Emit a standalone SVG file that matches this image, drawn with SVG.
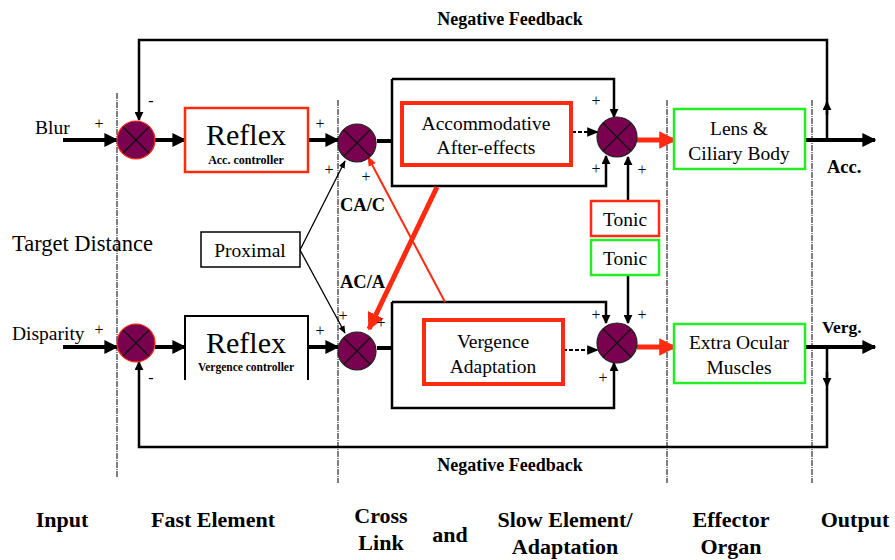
<svg xmlns="http://www.w3.org/2000/svg" width="895" height="560" viewBox="0 0 895 560">
  <style>
    text { font-family: "Times New Roman", "Liberation Serif", Tinos, "Nimbus Roman", "DejaVu Serif", "Noto Serif", serif; fill: #000; }
    .b { font-weight: bold; }
    .lbl { font-size: 18px; font-weight: bold; text-anchor: middle; }
    .sgn { font-size: 16px; text-anchor: middle; }
    .col { font-size: 22px; font-weight: bold; text-anchor: middle; }
    .mid { text-anchor: middle; }
    .box { font-size: 19.5px; text-anchor: middle; }
    .sep { stroke: #000; stroke-width: 1; stroke-dasharray: 6 1 1 1; fill: none; }
    .thick { stroke: #000; stroke-width: 4; fill: none; }
    .wire { stroke: #000; stroke-width: 2.5; fill: none; }
    .thin { stroke: #000; stroke-width: 1.3; fill: none; }
    .dash { stroke: #000; stroke-width: 2; stroke-dasharray: 4 2; fill: none; }
    .redthick { stroke: #ff2a10; stroke-width: 5; fill: none; }
    .redthin { stroke: #ff2a10; stroke-width: 2; fill: none; }
    .sum circle { fill: #7a0050; stroke: #222; stroke-width: 1.2; }
    .sum.in circle { stroke: #ff2a10; }
    .sum line { stroke: #111; stroke-width: 1.2; }
    .rbox { fill: #fff; stroke: #ff2a10; stroke-width: 2.5; }
    .rbox2 { fill: #fff; stroke: #ff2a10; stroke-width: 4; }
    .gbox { fill: #fff; stroke: #22ee22; stroke-width: 2.5; }
    .kbox { fill: #fff; stroke: #000; stroke-width: 1.5; }
  </style>
  <defs>
    <marker id="ah" viewBox="0 0 10 10" refX="9" refY="5" markerWidth="3.5" markerHeight="3.5" orient="auto" markerUnits="strokeWidth">
      <path d="M0,0 L10,5 L0,10 Z" fill="#000"/>
    </marker>
    <marker id="ahs" viewBox="0 0 10 10" refX="9" refY="5" markerWidth="3.6" markerHeight="3.6" orient="auto" markerUnits="strokeWidth">
      <path d="M0,0 L10,5 L0,10 Z" fill="#000"/>
    </marker>
    <marker id="ahthin" viewBox="0 0 10 10" refX="9" refY="5" markerWidth="6" markerHeight="6" orient="auto" markerUnits="strokeWidth">
      <path d="M0,1 L10,5 L0,9 Z" fill="#000"/>
    </marker>
    <marker id="ahred" viewBox="0 0 10 10" refX="9" refY="5" markerWidth="3.5" markerHeight="3.5" orient="auto" markerUnits="strokeWidth">
      <path d="M0,0 L10,5 L0,10 Z" fill="#ff2a10"/>
    </marker>
    <marker id="ahredthin" viewBox="0 0 10 10" refX="9" refY="5" markerWidth="5" markerHeight="5" orient="auto" markerUnits="strokeWidth">
      <path d="M0,1 L10,5 L0,9 Z" fill="#ff2a10"/>
    </marker>
  </defs>

  <!-- stage separators -->
  <g id="separators">
    <line class="sep" x1="117" y1="93" x2="117" y2="477"/>
    <line class="sep" x1="338" y1="100" x2="338" y2="483"/>
    <line class="sep" x1="667" y1="100" x2="667" y2="483"/>
    <line class="sep" x1="812" y1="100" x2="812" y2="483"/>
  </g>

  <g id="connectors">
    <!-- accommodation path -->
    <line class="thick" x1="63" y1="140" x2="117" y2="140" marker-end="url(#ah)"/>
    <line class="thick" x1="155" y1="140" x2="185" y2="140" marker-end="url(#ah)"/>
    <line class="thick" x1="308" y1="140" x2="338" y2="140" marker-end="url(#ah)"/>
    <line class="thick" x1="377" y1="141" x2="392" y2="141"/>
    <path class="wire" d="M392,79 H614 V117" marker-end="url(#ahs)"/>
    <path class="wire" d="M392,79 V186 H606 V156" marker-end="url(#ahs)"/>
    <line class="dash" x1="572" y1="132" x2="598" y2="132" marker-end="url(#ahthin)"/>
    <line class="redthick" x1="637" y1="140" x2="675" y2="140" marker-end="url(#ahred)"/>
    <line class="thick" x1="805" y1="140" x2="875" y2="140" marker-end="url(#ah)"/>
    <line class="wire" x1="628" y1="201" x2="628" y2="157" marker-end="url(#ahs)"/>
    <!-- accommodation feedback -->
    <path class="wire" d="M827,140 V40 H139 V120" marker-end="url(#ahs)"/>
    <line class="wire" x1="827" y1="115" x2="827" y2="102" marker-end="url(#ahs)"/>

    <!-- vergence path -->
    <line class="thick" x1="63" y1="347" x2="117" y2="347" marker-end="url(#ah)"/>
    <line class="thick" x1="155" y1="347" x2="185" y2="347" marker-end="url(#ah)"/>
    <line class="thick" x1="308" y1="347" x2="338" y2="347" marker-end="url(#ah)"/>
    <line class="thick" x1="377" y1="348" x2="392" y2="348"/>
    <path class="wire" d="M392,302 H606 V323" marker-end="url(#ahs)"/>
    <path class="wire" d="M392,302 V408 H614 V363" marker-end="url(#ahs)"/>
    <line class="dash" x1="563" y1="350" x2="598" y2="350" marker-end="url(#ahthin)"/>
    <line class="redthick" x1="637" y1="347" x2="675" y2="347" marker-end="url(#ahred)"/>
    <line class="thick" x1="805" y1="347" x2="875" y2="347" marker-end="url(#ah)"/>
    <line class="wire" x1="628" y1="275" x2="628" y2="323" marker-end="url(#ahs)"/>
    <!-- vergence feedback -->
    <path class="wire" d="M827,347 V447 H139 V362" marker-end="url(#ahs)"/>
    <line class="wire" x1="827" y1="372" x2="827" y2="386" marker-end="url(#ahs)"/>

    <!-- proximal and cross links -->
    <line class="thin" x1="300" y1="250" x2="345" y2="161" marker-end="url(#ahthin)"/>
    <line class="thin" x1="300" y1="250" x2="345" y2="333" marker-end="url(#ahthin)"/>
    <line class="redthin" x1="445" y1="302" x2="368" y2="157" marker-end="url(#ahredthin)"/>
    <line class="redthick" x1="437" y1="187" x2="369" y2="329" marker-end="url(#ahred)"/>
  </g>

  <!-- summing junctions -->
  <g id="sum-blur" class="sum in">
    <circle cx="136" cy="140" r="19"/>
    <line x1="123" y1="127" x2="149" y2="153"/><line x1="149" y1="127" x2="123" y2="153"/>
  </g>
  <g id="sum-acc-cross" class="sum">
    <circle cx="357" cy="143" r="19"/>
    <line x1="344" y1="130" x2="370" y2="156"/><line x1="370" y1="130" x2="344" y2="156"/>
  </g>
  <g id="sum-acc-out" class="sum">
    <circle cx="617" cy="137" r="20"/>
    <line x1="603" y1="123" x2="631" y2="151"/><line x1="631" y1="123" x2="603" y2="151"/>
  </g>
  <g id="sum-disp" class="sum in">
    <circle cx="136" cy="343" r="19"/>
    <line x1="123" y1="330" x2="149" y2="356"/><line x1="149" y1="330" x2="123" y2="356"/>
  </g>
  <g id="sum-verg-cross" class="sum">
    <circle cx="357" cy="351" r="19"/>
    <line x1="344" y1="338" x2="370" y2="364"/><line x1="370" y1="338" x2="344" y2="364"/>
  </g>
  <g id="sum-verg-out" class="sum">
    <circle cx="617" cy="343" r="20"/>
    <line x1="603" y1="329" x2="631" y2="357"/><line x1="631" y1="329" x2="603" y2="357"/>
  </g>

  <!-- blocks -->
  <g id="reflex-acc">
    <rect class="rbox" x="185" y="108" width="123" height="64"/>
    <text class="mid" x="246" y="145" font-size="30">Reflex</text>
    <text class="mid b" x="246" y="164" font-size="12">Acc. controller</text>
  </g>
  <g id="reflex-verg">
    <rect x="185" y="316" width="123" height="64" fill="#fff"/>
    <path d="M185,380 V316 H308 V380" fill="none" stroke="#000" stroke-width="2"/>
    <text class="mid" x="246" y="353" font-size="30">Reflex</text>
    <text class="mid b" x="246" y="371" font-size="11.5">Vergence controller</text>
  </g>
  <g id="acc-aftereffects">
    <rect class="rbox2" x="402" y="103" width="169" height="62"/>
    <text class="box" x="486" y="130">Accommodative</text>
    <text class="box" x="486" y="154">After-effects</text>
  </g>
  <g id="verg-adaptation">
    <rect class="rbox2" x="424" y="320" width="139" height="64"/>
    <text class="box" x="493" y="348">Vergence</text>
    <text class="box" x="493" y="373">Adaptation</text>
  </g>
  <g id="proximal">
    <rect class="kbox" x="201" y="232" width="99" height="35"/>
    <text class="box" x="250" y="257">Proximal</text>
  </g>
  <g id="tonic-acc">
    <rect class="rbox" x="591" y="201" width="68" height="35" stroke-width="2"/>
    <text class="box" x="625" y="226">Tonic</text>
  </g>
  <g id="tonic-verg">
    <rect class="gbox" x="591" y="240" width="68" height="35" stroke-width="2"/>
    <text class="box" x="625" y="265">Tonic</text>
  </g>
  <g id="lens-ciliary">
    <rect class="gbox" x="674" y="109" width="131" height="60"/>
    <text class="box" x="739" y="135">Lens &amp;</text>
    <text class="box" x="739" y="160">Ciliary Body</text>
  </g>
  <g id="extra-ocular">
    <rect class="gbox" x="674" y="324" width="131" height="59"/>
    <text class="box" x="739" y="349">Extra Ocular</text>
    <text class="box" x="739" y="374">Muscles</text>
  </g>

  <!-- signal labels -->
  <g id="labels">
    <text class="lbl" x="510" y="25">Negative Feedback</text>
    <text class="lbl" x="510" y="471">Negative Feedback</text>
    <text x="35" y="134" font-size="19.5">Blur</text>
    <text x="12" y="340" font-size="19.5">Disparity</text>
    <text x="12" y="251" font-size="22.5">Target Distance</text>
    <text class="b" x="340" y="211" font-size="18.5">CA/C</text>
    <text class="b" x="340" y="288" font-size="18.5">AC/A</text>
    <text class="b" x="827" y="173" font-size="18.5">Acc.</text>
    <text class="b" x="822" y="333" font-size="17.5">Verg.</text>

    <text class="sgn" x="99" y="129">+</text>
    <text class="sgn" x="151" y="106">-</text>
    <text class="sgn" x="320" y="129">+</text>
    <text class="sgn" x="329" y="175">+</text>
    <text class="sgn" x="366" y="182">+</text>
    <text class="sgn" x="596" y="106">+</text>
    <text class="sgn" x="596" y="174">+</text>
    <text class="sgn" x="642" y="175">+</text>

    <text class="sgn" x="99" y="335">+</text>
    <text class="sgn" x="151" y="383">-</text>
    <text class="sgn" x="320" y="336">+</text>
    <text class="sgn" x="343" y="321">+</text>
    <text class="sgn" x="381" y="328">+</text>
    <text class="sgn" x="596" y="320">+</text>
    <text class="sgn" x="642" y="320">+</text>
    <text class="sgn" x="603" y="383">+</text>
  </g>

  <!-- stage captions -->
  <g id="stages">
    <text class="col" x="62" y="527">Input</text>
    <text class="col" x="213" y="527">Fast Element</text>
    <text class="col" x="381" y="523">Cross</text>
    <text class="col" x="381" y="550">Link</text>
    <text class="col" x="450" y="542">and</text>
    <text class="col" x="565" y="527">Slow Element/</text>
    <text class="col" x="565" y="554">Adaptation</text>
    <text class="col" x="731" y="527">Effector</text>
    <text class="col" x="731" y="554">Organ</text>
    <text class="col" x="855" y="527">Output</text>
  </g>
</svg>
